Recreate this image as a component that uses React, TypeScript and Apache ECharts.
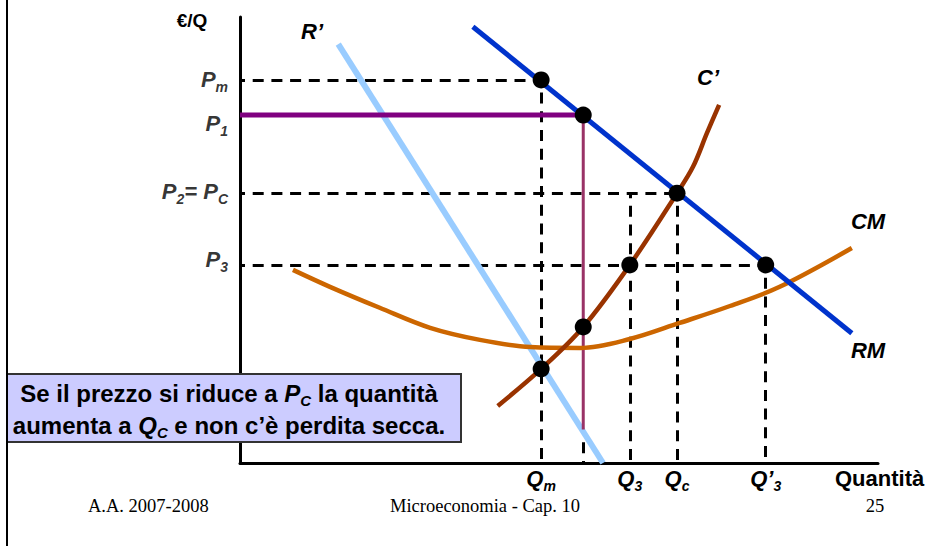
import React, { useEffect, useRef } from "react";
import * as echarts from "echarts";

// ---- Data (quantity on x, price on y, abstract units 0..100) ----
const Qm = 47.2;
const Q1 = 53.8;
const Q3 = 61.1;
const Qc = 68.5;
const Q3p = 82.4;
const Pm = 85.9;
const P1 = 78.0;
const P2 = 60.5;
const P3 = 44.4;
const Q1Floor = 7.5; // where the P1 vertical meets R'
const costAtQ1 = 30.5;
const costAtQm = 21.1;

const quantityTicks = [Qm, Q3, Qc, Q3p];
const quantityTickLabels = ["{Q|Q}{s|m}", "{Q|Q}{s|3}", "{Q|Q}{s|c}", "{Q|Q’}{s|3}"];
const priceTicks = [Pm, P1, P2, P3];
const priceTickLabels = ["{P|P}{s|m}", "{P|P}{s|1}", "{P|P}{s|2}{P|= P}{s|C}", "{P|P}{s|3}"];

const rmLine = [
  [36.5, 97.8],
  [95.9, 29.1],
];
const rPrimeLine = [
  [15.4, 93.9],
  [56.9, 0],
];
const cPrimeCurve = [
  [40.4, 12.8],
  [47.2, 21.1],
  [53.8, 30.5],
  [61.1, 44.4],
  [68.5, 60.5],
  [71.0, 66.4],
  [73.2, 74.0],
  [75.1, 80.3],
];
const cmCurve = [
  [8.3, 43.3],
  [14.1, 39.5],
  [21.9, 34.8],
  [29.8, 30.3],
  [37.6, 27.6],
  [45.5, 26.0],
  [53.3, 25.8],
  [61.1, 27.8],
  [68.9, 31.4],
  [76.8, 35.2],
  [84.6, 39.5],
  [95.9, 48.2],
];
const markedPoints = [
  [Qm, Pm],
  [Q1, P1],
  [Qc, P2],
  [Q3, P3],
  [Q3p, P3],
  [Q1, costAtQ1],
  [Qm, costAtQm],
];
const dashedSegments = [
  [[0, Pm], [Qm, Pm]],
  [[Qm, Pm], [Qm, 0]],
  [[0, P2], [Qc, P2]],
  [[Qc, P2], [Qc, 0]],
  [[Q3, P2], [Q3, 0]],
  [[0, P3], [Q3p, P3]],
  [[Q3p, P3], [Q3p, 0]],
  [[Q1, Q1Floor], [Q1, 0]],
];
const purpleHorizontal = [[0, P1], [Q1, P1]];
const purpleVertical = [[Q1, P1], [Q1, Q1Floor]];

// ---- Styles ----
const SANS = '"Liberation Sans", Arial, Helvetica, sans-serif';
const SERIF = '"Liberation Serif", "Times New Roman", serif';
const priceLabelOffsets = [-0.5, 8.5, -2, -5.5];

const tickRich = {
  P: { fontFamily: SANS, fontSize: 22, fontWeight: "bold", fontStyle: "italic", color: "#000", lineHeight: 30 },
  Q: { fontFamily: SANS, fontSize: 22, fontWeight: "bold", fontStyle: "italic", color: "#000", lineHeight: 30 },
  s: { fontFamily: SANS, fontSize: 14, fontWeight: "bold", fontStyle: "italic", color: "#000", lineHeight: 14, padding: [15, 0, 0, 0] },
};

function label(text: string, x: number, y: number, size: number, italic: boolean, align = "center") {
  return {
    type: "text",
    z: 100,
    style: {
      text,
      x,
      y,
      align,
      verticalAlign: "middle",
      fontFamily: SANS,
      fontSize: size,
      fontWeight: "bold",
      fontStyle: italic ? "italic" : "normal",
      fill: "#000",
    },
  };
}

export default function App() {
  const ref = useRef<HTMLDivElement>(null);
  useEffect(() => {
    if (!ref.current) return;
    const chart = echarts.init(ref.current, null, { renderer: "svg" });
    const option: any = {
      animation: false,
      backgroundColor: "#ffffff",
      grid: { left: 240, top: 17, width: 638, height: 446, containLabel: false, outerBoundsMode: "none" },
      xAxis: {
        type: "value",
        min: 0,
        max: 100,
        axisLine: { show: true, onZero: false, lineStyle: { color: "#000", width: 3 } },
        axisTick: { show: false },
        splitLine: { show: false },
        axisLabel: {
          show: true,
          customValues: quantityTicks,
          margin: 0,
          hideOverlap: false,
          formatter: (v: number) => {
            const i = quantityTicks.indexOf(v);
            return i >= 0 ? quantityTickLabels[i] : "";
          },
          rich: tickRich,
        },
      },
      yAxis: {
        type: "value",
        min: 0,
        max: 100,
        axisLine: { show: true, onZero: false, lineStyle: { color: "#000", width: 3 } },
        axisTick: { show: false },
        splitLine: { show: false },
        axisLabel: { show: false },
      },
      series: [
        {
          type: "lines",
          coordinateSystem: "cartesian2d",
          silent: true,
          data: dashedSegments.map((c) => ({ coords: c })),
          lineStyle: { color: "#000", width: 3, type: [11, 7.7], dashOffset: 6, opacity: 1 },
        },
        {
          type: "line",
          data: rPrimeLine,
          symbol: "none",
          lineStyle: { color: "#99ccff", width: 6 },
        },
        {
          type: "line",
          data: purpleHorizontal,
          symbol: "none",
          lineStyle: { color: "#800080", width: 5 },
        },
        {
          type: "line",
          data: purpleVertical,
          symbol: "none",
          lineStyle: { color: "#993366", width: 3 },
        },
        {
          type: "line",
          data: cmCurve,
          symbol: "none",
          smooth: 0.35,
          lineStyle: { color: "#cc6600", width: 4.5 },
        },
        {
          type: "line",
          data: cPrimeCurve,
          symbol: "none",
          smooth: 0.35,
          lineStyle: { color: "#993300", width: 4.5 },
        },
        {
          type: "line",
          data: rmLine,
          symbol: "none",
          lineStyle: { color: "#0033cc", width: 5 },
        },
        {
          type: "scatter",
          data: markedPoints,
          symbol: "circle",
          symbolSize: 17,
          itemStyle: { color: "#000", opacity: 1 },
          z: 5,
        },
        {
          type: "scatter",
          silent: true,
          clip: false,
          symbolSize: 0,
          data: priceTicks.map((p, i) => ({ value: [0, p], label: { offset: [0, priceLabelOffsets[i]] } })),
          label: {
            show: true,
            position: "left",
            distance: 12,
            formatter: (p: any) => priceTickLabels[p.dataIndex],
            rich: tickRich,
          },
        },
      ],
      graphic: [
        { type: "line", z: 120, shape: { x1: 7, y1: 0, x2: 7, y2: 546 }, style: { stroke: "#000", lineWidth: 2 } },
        { type: "rect", z: 100, shape: { x: 7, y: 374, width: 454, height: 68 }, style: { fill: "#ccccff", stroke: "#333333", lineWidth: 2 } },
        {
          type: "text",
          z: 110,
          style: {
            text: "Se il prezzo si riduce a {i|P}{s|C} la quantità\naumenta a {i|Q}{s|C} e non c’è perdita secca.",
            x: 229,
            y: 409,
            align: "center",
            verticalAlign: "middle",
            fontFamily: SANS,
            fontSize: 24,
            fontWeight: "bold",
            lineHeight: 32,
            fill: "#000",
            rich: {
              i: { fontFamily: SANS, fontSize: 24, fontWeight: "bold", fontStyle: "italic", lineHeight: 32, fill: "#000" },
              s: { fontFamily: SANS, fontSize: 15, fontWeight: "bold", fontStyle: "italic", lineHeight: 15, padding: [0, 0, 1, 0], verticalAlign: "bottom", fill: "#000" },
            },
          },
        },
        label("€/Q", 192, 20, 19, false),
        label("R’", 312, 31, 22, true),
        label("C’", 708, 77, 22, true),
        label("CM", 868, 221, 22, true),
        label("RM", 868, 350, 22, true),
        label("Quantità", 835, 478, 22, false, "left"),
        {
          type: "text",
          style: { text: "A.A. 2007-2008", x: 88, y: 506, align: "left", verticalAlign: "middle", fontFamily: SERIF, fontSize: 18.5, fill: "#000" },
        },
        {
          type: "text",
          style: { text: "Microeconomia - Cap. 10", x: 485, y: 506, align: "center", verticalAlign: "middle", fontFamily: SERIF, fontSize: 18.5, fill: "#000" },
        },
        {
          type: "text",
          style: { text: "25", x: 875, y: 506, align: "center", verticalAlign: "middle", fontFamily: SERIF, fontSize: 18.5, fill: "#000" },
        },
      ],
    };
    chart.setOption(option);
    return () => chart.dispose();
  }, []);
  return <div ref={ref} style={{ position: "fixed", left: 0, top: 0, width: 932, height: 546, background: "#fff" }} />;
}
